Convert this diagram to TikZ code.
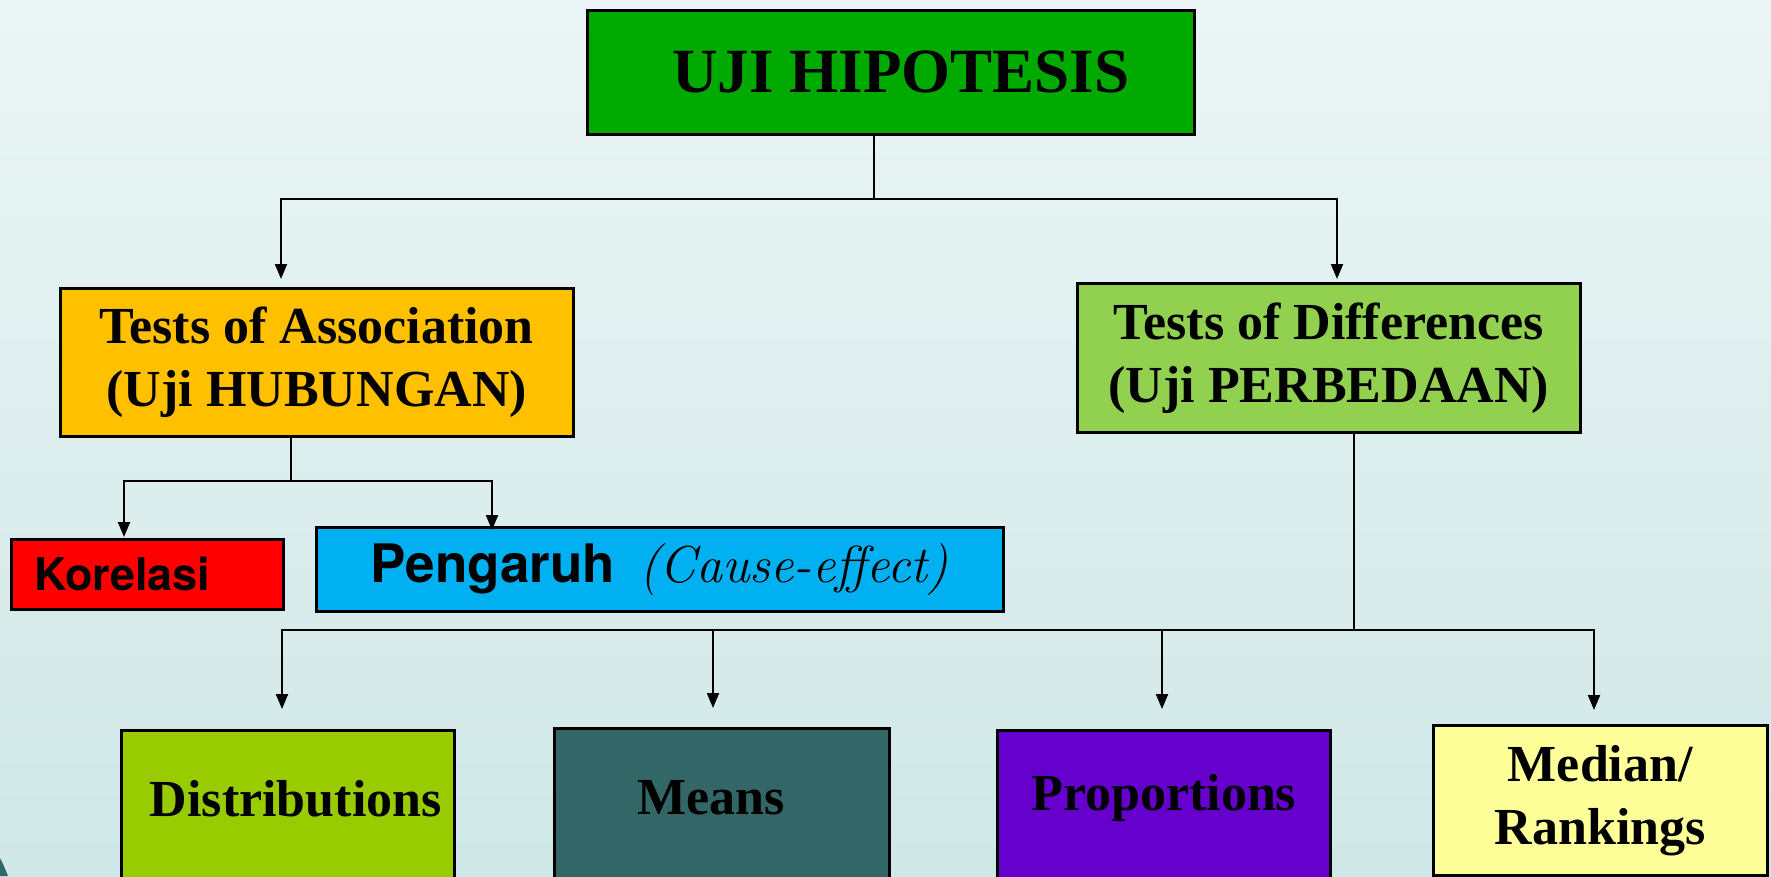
\documentclass[tikz,border=0pt]{standalone}
\usepackage{fontspec}
\newfontfamily\tms{Liberation Serif}
\newfontfamily\hsans{TeX Gyre Heros}
\usetikzlibrary{arrows.meta}
\definecolor{bgtop}{HTML}{EBF5F5}
\definecolor{bgbot}{HTML}{D0E7E7}
\definecolor{cTop}{HTML}{00AA00}
\definecolor{cAssoc}{HTML}{FFC000}
\definecolor{cDiff}{HTML}{92D050}
\definecolor{cKor}{HTML}{FF0000}
\definecolor{cPeng}{HTML}{00B0F0}
\definecolor{cDist}{HTML}{99CC00}
\definecolor{cMean}{HTML}{336666}
\definecolor{cProp}{HTML}{6600CC}
\definecolor{cMed}{HTML}{FFFF99}
\definecolor{cCorner}{HTML}{2E6868}
\tikzset{
  box/.style={draw=black, line width=2.5pt, inner sep=0pt, anchor=north west},
  serifbig/.style={font=\tms\bfseries\fontsize{52}{63}\selectfont, align=center},
  botbox/.style={box, serifbig, text depth=110pt},
  ln/.style={line width=2pt},
  arr/.style={line width=2pt, -{Triangle[length=15pt,width=12pt]}}
}
\begin{document}
\begin{tikzpicture}[x=1pt,y=-1pt]
\useasboundingbox (0,0) rectangle (1771,876);
\shade[top color=bgtop,bottom color=bgbot] (0,0) rectangle (1771,876);
\fill[cCorner] (0,858) .. controls (4,866) .. (8,876) -- (0,876) -- cycle;

% main nodes
\node[box, fill=cTop, minimum width=607pt, minimum height=124pt,
      font=\tms\bfseries\fontsize{63}{70}\selectfont] (top) at (586,9) {\hspace*{20pt}UJI HIPOTESIS};
\node[box, fill=cAssoc, minimum width=513pt, minimum height=148pt, serifbig] (assoc) at (59,287)
  {Tests of Association\\(Uji HUBUNGAN)};
\node[box, fill=cDiff, minimum width=503pt, minimum height=149pt, serifbig] (diff) at (1076,282)
  {Tests of Differences\\(Uji PERBEDAAN)};
\node[box, fill=cKor, minimum width=272pt, minimum height=70pt, text width=226pt, inner xsep=23pt,
      align=left, font=\hsans\bfseries\fontsize{45}{50}\selectfont] (kor) at (10,538) {Korelasi};
\node[box, fill=cPeng, minimum width=687pt, minimum height=84pt] (peng) at (315,526)
  {{\hsans\bfseries\fontsize{53}{58}\selectfont Pengaruh}\hspace{24pt}{\itshape\fontsize{52}{56}\selectfont (Cause-effect)}};

% bottom nodes
\node[botbox, fill=cDist, minimum width=333pt, text height=86pt] (dist) at (120,729) {\hspace*{16pt}Distributions};
\node[botbox, fill=cMean, minimum width=335pt, text height=86pt] (mean) at (553,727) {Means\hspace*{22pt}};
\node[botbox, fill=cProp, minimum width=333pt, text height=80pt] (prop) at (996,729) {Proportions};
\node[box, fill=cMed, minimum width=334pt, minimum height=150pt, serifbig] (med) at (1432,724)
  {Median/\\Rankings};

% connectors level 1
\coordinate (j1) at (874,199);
\coordinate (aA) at (281,279);
\coordinate (aD) at (1337,279);
\draw[ln] (top.south -| j1) -- (j1);
\draw[arr] (j1) -| (aA);
\draw[arr] (j1) -| (aD);

% association children
\coordinate (j2) at (291,481);
\coordinate (aK) at (124,537);
\coordinate (aP) at (492,530);
\draw[ln] (assoc.south -| j2) -- (j2);
\draw[arr] (j2) -| (aK);
\draw[arr] (j2) -| (aP);

% differences children
\coordinate (j3) at (1354,630);
\coordinate (b1) at (282,709);
\coordinate (b2) at (713,708);
\coordinate (b3) at (1162,709);
\coordinate (b4) at (1594,710);
\draw[ln] (diff.south -| j3) -- (j3);
\draw[arr] (j3) -| (b1);
\draw[arr] (j3) -| (b2);
\draw[arr] (j3) -| (b3);
\draw[arr] (j3) -| (b4);
\end{tikzpicture}
\end{document}
